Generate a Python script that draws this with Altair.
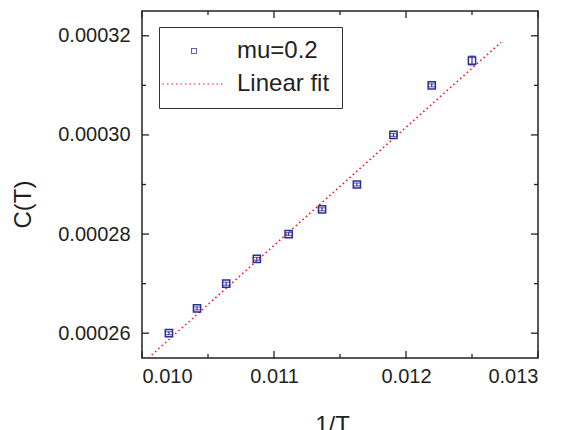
import altair as alt
import pandas as pd

# ---- data ----
inv_T = [0.010204, 0.010417, 0.010638, 0.010870, 0.011111,
         0.011364, 0.011628, 0.011905, 0.012195, 0.012500]
C_T = [0.000260, 0.000265, 0.000270, 0.000275, 0.000280,
       0.000285, 0.000290, 0.000300, 0.000310, 0.000315]
C_err = [0.0000003, 0.0000003, 0.0000003, 0.0000003, 0.0000003,
         0.0000003, 0.0000003, 0.0000003, 0.0000003, 0.0000009]
fit_x = [0.010048, 0.012720]
fit_y = [0.000255, 0.0003187]

x_major = [0.010, 0.011, 0.012, 0.013]
x_minor = [0.0105, 0.0115, 0.0125]
y_major = [0.00026, 0.00028, 0.00030, 0.00032]
y_minor = [0.00027, 0.00029, 0.00031]

series = ["mu=0.2", "Linear fit"]

W, H = 396, 347
FONT = "Liberation Sans"
INK = "#231f20"
BLUE = "#2b2e96"
RED = "#ec1c24"

pts = pd.DataFrame({"x": inv_T, "y": C_T, "series": series[0]})
pts["lo"] = [v - e for v, e in zip(C_T, C_err)]
pts["hi"] = [v + e for v, e in zip(C_T, C_err)]
fit = pd.DataFrame({"x": fit_x, "y": fit_y, "series": series[1]})

xs = alt.Scale(domain=[0.010, 0.013], nice=False, zero=False)
ys = alt.Scale(domain=[0.000255, 0.000325], nice=False, zero=False)

xaxis = alt.Axis(values=x_major, format=".3f", title="1/T", labelPadding=8,
                 titleBaseline="top", titleY=55, titleX=190)
yaxis = alt.Axis(values=y_major, format=".5f", title="C(T)", labelPadding=12,
                 titleAngle=270, titleBaseline="bottom", titleX=-107, titleY=193)

X = lambda f: alt.X(f, type="quantitative", scale=xs, axis=xaxis)
Y = lambda f: alt.Y(f, type="quantitative", scale=ys, axis=yaxis)

col = alt.Color("series:N", scale=alt.Scale(domain=series, range=[BLUE, RED]),
                legend=alt.Legend(title=None))
shp = alt.Shape("series:N", scale=alt.Scale(domain=series, range=["square", "M-12.6,0H12.6"]),
                legend=alt.Legend(title=None))
dsh = alt.StrokeDash("series:N", scale=alt.Scale(domain=series, range=[[1, 0], [1.5, 3]]),
                     legend=alt.Legend(title=None))

err = alt.Chart(pts).mark_rule(color=BLUE, strokeWidth=1.2).encode(
    x=X("x"), y=Y("lo"), y2="hi")
caps_lo = alt.Chart(pts).mark_tick(color=BLUE, thickness=1.2, size=7, orient="horizontal").encode(
    x=X("x"), y=Y("lo"))
caps_hi = alt.Chart(pts).mark_tick(color=BLUE, thickness=1.2, size=7, orient="horizontal").encode(
    x=X("x"), y=Y("hi"))

points = alt.Chart(pts).mark_point(filled=False, size=52, strokeWidth=1.5, opacity=1).encode(
    x=X("x"), y=Y("y"), color=col, shape=shp)

line = alt.Chart(fit).mark_line(strokeWidth=1.6).encode(
    x=X("x"), y=Y("y"), color=col, strokeDash=dsh)

def xt(vals, y0, y1):
    return alt.Chart(pd.DataFrame({"v": vals})).mark_rule(color="#222", strokeWidth=1.3).encode(
        x=X("v"), y=alt.value(y0), y2=alt.value(y1))

def yt(vals, x0, x1):
    return alt.Chart(pd.DataFrame({"v": vals})).mark_rule(color="#222", strokeWidth=1.3).encode(
        y=Y("v"), x=alt.value(x0), x2=alt.value(x1))

ticks = [
    xt(x_major, H, H - 7), xt(x_minor, H, H - 4),
    xt(x_major, 0, 7), xt(x_minor, 0, 4),
    yt(y_major, 0, 7), yt(y_minor, 0, 4),
    yt(y_major, W, W - 7), yt(y_minor, W, W - 4),
]

chart = alt.layer(*ticks, line, err, caps_lo, caps_hi, points).properties(
    width=W, height=H,
    autosize=alt.AutoSizeParams(type="none"),
    padding={"left": 142, "top": 11, "right": 27, "bottom": 72},
).configure_view(
    stroke="#222", strokeWidth=1.5
).configure_axis(
    ticks=False, domain=False, grid=False,
    labelFont=FONT, labelFontSize=20, labelColor=INK,
    titleFont=FONT, titleFontSize=24, titleFontWeight="normal", titleColor=INK,
).configure_legend(
    orient="none", legendX=17, legendY=16,
    strokeColor="#333", fillColor="white", padding=12,
    symbolOffset=11, labelOffset=31, rowPadding=9,
    symbolSize=25, symbolStrokeWidth=1,
    labelFont=FONT, labelFontSize=24, labelColor=INK,
)

chart.save("out.html", embed_options={"renderer": "svg", "actions": False})
